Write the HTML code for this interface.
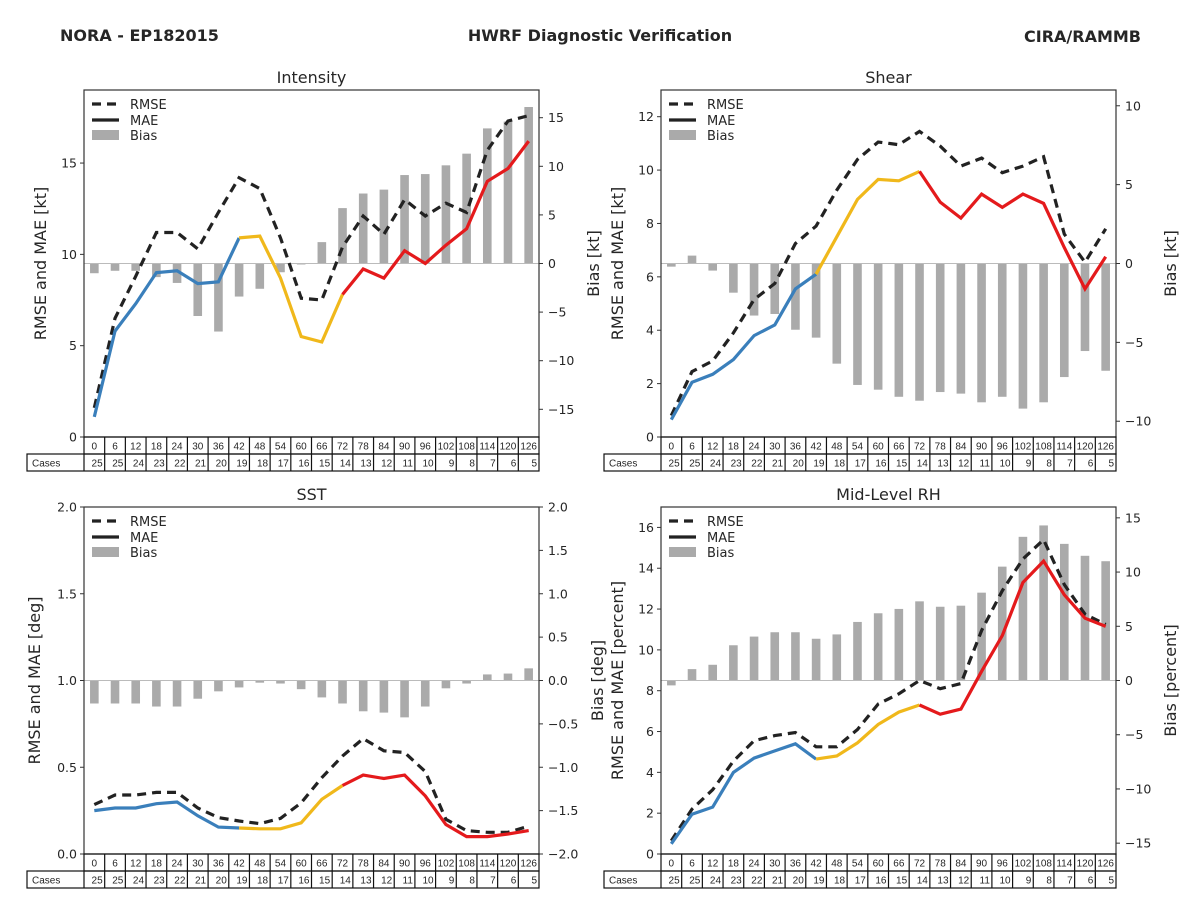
<!DOCTYPE html>
<html><head><meta charset="utf-8"><style>
body{margin:0;background:#fff;}
svg text{font-family:"DejaVu Sans","Liberation Sans",sans-serif;fill:#262626;}
svg text.tb{font-family:"Liberation Sans","DejaVu Sans",sans-serif;}
</style></head><body>
<svg id="fig" width="1200" height="900" viewBox="0 0 1200 900" xmlns="http://www.w3.org/2000/svg">
<rect width="1200" height="900" fill="#fff"/>
<text x="60" y="41" font-size="16" font-weight="bold">NORA - EP182015</text>
<text x="600" y="41" font-size="16" font-weight="bold" text-anchor="middle">HWRF Diagnostic Verification</text>
<text x="1141" y="42" font-size="16" font-weight="bold" text-anchor="end">CIRA/RAMMB</text>
</svg>
<script>
const hours=[0,6,12,18,24,30,36,42,48,54,60,66,72,78,84,90,96,102,108,114,120,126];
const cases=[25,25,24,23,22,21,20,19,18,17,16,15,14,13,12,11,10,9,8,7,6,5];
const intRmse=[1.6,6.5,8.8,11.2,11.2,10.3,12.3,14.2,13.6,10.9,7.6,7.5,10.4,12.1,11.1,13.0,12.1,12.8,12.3,15.7,17.3,17.6];
const intMae=[1.1,5.8,7.3,9.0,9.1,8.4,8.5,10.9,11.0,8.7,5.5,5.2,7.8,9.2,8.7,10.2,9.5,10.5,11.4,14.0,14.7,16.2];
const intBias=[-1.0,-0.75,-0.75,-1.4,-2.0,-5.4,-7.0,-3.4,-2.6,-0.9,-0.1,2.2,5.7,7.2,7.6,9.1,9.2,10.1,11.3,13.9,14.6,16.1];
const shrRmse=[0.8,2.45,2.85,3.9,5.15,5.75,7.25,7.9,9.25,10.4,11.05,10.95,11.45,10.9,10.15,10.45,9.9,10.15,10.5,7.6,6.55,7.8];
const shrMae=[0.65,2.05,2.35,2.9,3.8,4.2,5.55,6.1,7.5,8.9,9.65,9.6,9.95,8.8,8.2,9.1,8.6,9.1,8.75,7.1,5.55,6.75];
const shrBias=[-0.2,0.5,-0.45,-1.85,-3.3,-3.2,-4.2,-4.7,-6.35,-7.7,-8.0,-8.45,-8.7,-8.15,-8.25,-8.8,-8.45,-9.2,-8.8,-7.2,-5.55,-6.8];
const sstRmse=[0.285,0.34,0.34,0.355,0.355,0.265,0.21,0.19,0.175,0.205,0.295,0.44,0.565,0.665,0.595,0.585,0.475,0.2,0.135,0.125,0.125,0.16];
const sstMae=[0.25,0.265,0.265,0.29,0.3,0.22,0.155,0.15,0.145,0.145,0.18,0.315,0.395,0.455,0.435,0.455,0.335,0.17,0.1,0.1,0.115,0.135];
const sstBias=[-0.265,-0.265,-0.265,-0.3,-0.3,-0.21,-0.125,-0.08,-0.025,-0.035,-0.1,-0.195,-0.265,-0.355,-0.37,-0.425,-0.3,-0.09,-0.035,0.07,0.08,0.14];
const rhRmse=[0.65,2.2,3.15,4.55,5.55,5.8,5.95,5.25,5.25,6.1,7.35,7.85,8.5,8.1,8.35,10.95,12.9,14.45,15.4,13.2,11.75,11.25];
const rhMae=[0.5,1.95,2.3,4.0,4.7,5.05,5.4,4.65,4.8,5.45,6.35,6.95,7.3,6.85,7.1,8.95,10.7,13.3,14.35,12.7,11.55,11.15];
const rhBias=[-0.45,1.05,1.45,3.25,4.05,4.45,4.45,3.85,4.25,5.4,6.2,6.6,7.3,6.8,6.9,8.1,10.5,13.25,14.3,12.6,11.5,11.0];

const NS='http://www.w3.org/2000/svg';
const svg=document.getElementById('fig');
function mk(tag,attrs,parent,text){const e=document.createElementNS(NS,tag);for(const k in attrs)e.setAttribute(k,attrs[k]);if(text!==undefined)e.textContent=text;(parent||svg).appendChild(e);return e;}
function fmt(v,dec){let s=v.toFixed(dec);return s.replace('-','\u2212');}

function panel(cfg){
  const g=mk('g',{});
  
  
  const {x0,x1,y0,y1}=cfg;
  const n=hours.length, cw=(x1-x0)/n;
  const xs=i=>x0+cw*(i+0.5);
  const yl=v=>y1-(v-cfg.lmin)/(cfg.lmax-cfg.lmin)*(y1-y0);
  const yr=v=>y1-(v-cfg.rmin)/(cfg.rmax-cfg.rmin)*(y1-y0);
  const t=mk('text',{x:(x0+x1)/2,y:y0-7,'font-size':16,'text-anchor':'middle'},g,cfg.title);
  
  
  const zero=yr(0);
  cfg.bias.forEach((v,i)=>{
    const y=yr(v);
    const r=mk('rect',{x:xs(i)-4.3,y:Math.min(y,zero),width:8.6,height:Math.max(Math.abs(y-zero),0.5),fill:'#aaaaaa'},g);
    
    
  });
  const zl=mk('line',{x1:x0,x2:x1,y1:zero,y2:zero,stroke:'#bbbbbb','stroke-width':1},g);
  
  
  const rp=cfg.rmse.map((v,i)=>xs(i).toFixed(1)+','+yl(v).toFixed(1)).join(' ');
  const rl=mk('polyline',{points:rp,fill:'none',stroke:'#222','stroke-width':3.2,'stroke-dasharray':'9,6'},g);
  
  
  const segs=[[0,7,'#3a7fbb'],[7,12,'#f0b81b'],[12,n-1,'#e41a1c']];
  segs.forEach(s=>{
    const pts=[];for(let i=s[0];i<=s[1];i++)pts.push(xs(i).toFixed(1)+','+yl(cfg.mae[i]).toFixed(1));
    const l=mk('polyline',{points:pts.join(' '),fill:'none',stroke:s[2],'stroke-width':3.2},g);
    
    
  });
  const fr=mk('rect',{x:x0,y:y0,width:x1-x0,height:y1-y0,fill:'none',stroke:'#333','stroke-width':1.2},g);
  
  
  cfg.lticks.forEach(v=>{
    const y=yl(v);
    mk('line',{x1:x0-4,x2:x0,y1:y,y2:y,stroke:'#333'},g);
    const tl=mk('text',{x:x0-7,y:y+4.5,'font-size':12.5,'text-anchor':'end'},g,fmt(v,cfg.ldec));
    
    
  });
  cfg.rticks.forEach(v=>{
    const y=yr(v);
    mk('line',{x1:x1,x2:x1+4,y1:y,y2:y,stroke:'#333'},g);
    const tl=mk('text',{x:x1+9,y:y+4.5,'font-size':12.5},g,fmt(v,cfg.rdec));
    
    
  });
  const cy=(y0+y1)/2;
  const la=mk('text',{x:cfg.llx,y:cy,'font-size':16,'text-anchor':'middle',transform:`rotate(-90 ${cfg.llx} ${cy})`},g,cfg.llabel);
  
  
  const ra=mk('text',{x:cfg.rlx,y:cy,'font-size':16,'text-anchor':'middle',transform:`rotate(-90 ${cfg.rlx} ${cy})`},g,cfg.rlabel);
  
  
  const lg=mk('g',{},g);
  
  
  const lx=x0+8, ly=y0+14;
  mk('line',{x1:lx,x2:lx+27,y1:ly,y2:ly,stroke:'#222','stroke-width':3.2,'stroke-dasharray':'9,6'},lg);
  mk('text',{x:lx+38,y:ly+5,'font-size':13},lg,'RMSE');
  mk('line',{x1:lx,x2:lx+27,y1:ly+16,y2:ly+16,stroke:'#222','stroke-width':3.2},lg);
  mk('text',{x:lx+38,y:ly+21,'font-size':13},lg,'MAE');
  mk('rect',{x:lx,y:ly+26,width:27,height:10,fill:'#aaaaaa'},lg);
  mk('text',{x:lx+38,y:ly+36,'font-size':13},lg,'Bias');
  const tb=mk('g',{},g);
  
  
  const r1=y1, r2=y1+17, r3=y1+34;
  mk('rect',{x:x0,y:r1,width:x1-x0,height:17,fill:'none',stroke:'#111','stroke-width':1.2},tb);
  mk('rect',{x:x0-57,y:r2,width:x1-x0+57,height:17,fill:'none',stroke:'#111','stroke-width':1.2},tb);
  mk('line',{x1:x0,x2:x0,y1:r2,y2:r3,stroke:'#111','stroke-width':1.2},tb);
  mk('text',{x:x0-52,y:r2+12.5,'font-size':10,class:'tb'},tb,'Cases');
  hours.forEach((h,i)=>{
    const cx=x0+cw*i;
    if(i>0) mk('line',{x1:cx,x2:cx,y1:r1,y2:r3,stroke:'#111','stroke-width':1.2},tb);
    mk('text',{x:xs(i),y:r1+12.5,'font-size':10,'text-anchor':'middle',class:'tb'},tb,String(h));
    mk('text',{x:cx+cw-2,y:r2+12.5,'font-size':10,'text-anchor':'end',class:'tb'},tb,String(cases[i]));
  });
}
panel({name:'intensity-panel',title:'Intensity',x0:84,x1:539,y0:90,y1:437,lmin:0,lmax:19,rmin:-17.85,rmax:17.85,
  lticks:[0,5,10,15],ldec:0,rticks:[-15,-10,-5,0,5,10,15],rdec:0,rmse:intRmse,mae:intMae,bias:intBias,
  llabel:'RMSE and MAE [kt]',llx:46,rlabel:'Bias [kt]',rlx:599});
panel({name:'shear-panel',title:'Shear',x0:661,x1:1116,y0:90,y1:437,lmin:0,lmax:13,rmin:-11,rmax:11,
  lticks:[0,2,4,6,8,10,12],ldec:0,rticks:[-10,-5,0,5,10],rdec:0,rmse:shrRmse,mae:shrMae,bias:shrBias,
  llabel:'RMSE and MAE [kt]',llx:623,rlabel:'Bias [kt]',rlx:1176});
panel({name:'sst-panel',title:'SST',x0:84,x1:539,y0:507,y1:854,lmin:0,lmax:2,rmin:-2,rmax:2,
  lticks:[0,0.5,1,1.5,2],ldec:1,rticks:[-2,-1.5,-1,-0.5,0,0.5,1,1.5,2],rdec:1,rmse:sstRmse,mae:sstMae,bias:sstBias,
  llabel:'RMSE and MAE [deg]',llx:40,rlabel:'Bias [deg]',rlx:603});
panel({name:'midlevel-rh-panel',title:'Mid-Level RH',x0:661,x1:1116,y0:507,y1:854,lmin:0,lmax:17,rmin:-16,rmax:16,
  lticks:[0,2,4,6,8,10,12,14,16],ldec:0,rticks:[-15,-10,-5,0,5,10,15],rdec:0,rmse:rhRmse,mae:rhMae,bias:rhBias,
  llabel:'RMSE and MAE [percent]',llx:623,rlabel:'Bias [percent]',rlx:1176});
</script>
</body></html>
